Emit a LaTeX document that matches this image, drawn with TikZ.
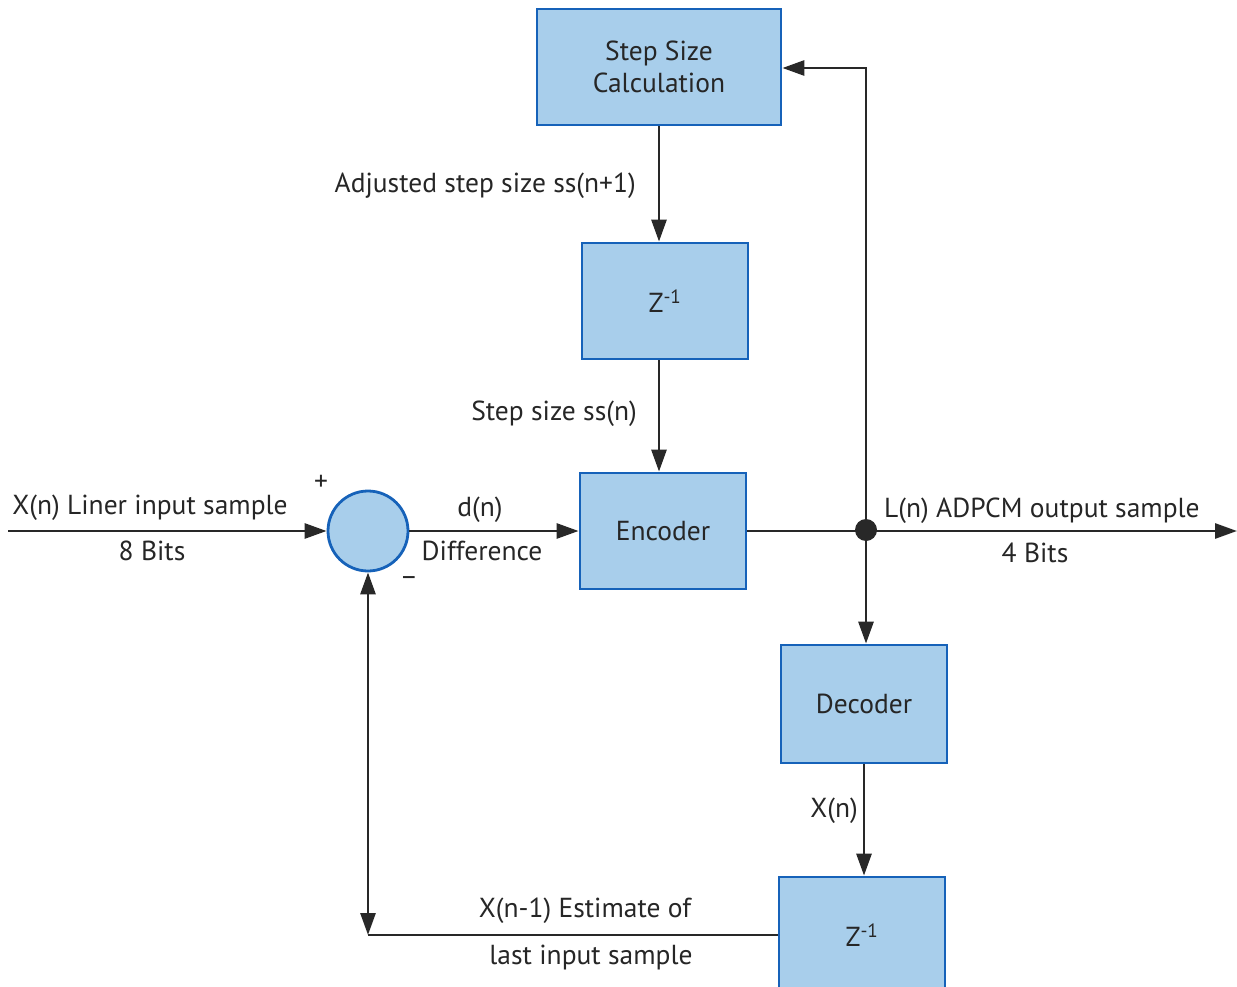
\documentclass[tikz,border=0pt]{standalone}
\usepackage{fontspec}
\setmainfont{PT Sans}
\usetikzlibrary{arrows.meta}
\definecolor{boxfill}{RGB}{168,206,235}
\definecolor{boxline}{RGB}{22,98,185}
\definecolor{wire}{RGB}{40,40,40}
\begin{document}
\begin{tikzpicture}[x=1pt,y=-1pt,
  blk/.style={draw=boxline,fill=boxfill,line width=2.8pt,minimum width=166pt,minimum height=116pt,inner sep=0pt,font=\fontsize{27.5}{32}\selectfont,align=center,text=black!85},
  wl/.style={draw=wire,line width=2.8pt},
  arr/.style={wl,-{Triangle[length=22pt,width=15pt]}},
  lbl/.style={font=\fontsize{27.5}{32}\selectfont,text=black!85,inner sep=0pt}]
\useasboundingbox (0,0) rectangle (1237,987);
% blocks
\node[blk,minimum width=244pt] (calc) at (659,67) {Step Size\\Calculation};
\node[blk] (z1) at (665,301) {Z\textsuperscript{-1}};
\node[blk] (enc) at (663,531) {Encoder};
\node[blk,minimum height=118pt] (dec) at (864,704) {Decoder};
\node[blk] (z2) at (862,935) {Z\textsuperscript{-1}};
\node[draw=boxline,fill=boxfill,line width=2.8pt,circle,minimum size=80pt,inner sep=0pt] (sum) at (368,531) {};
\fill[wire] (866,530) circle (11pt);
\coordinate (J) at (866,531);
\coordinate (in) at (8,531);
\coordinate (out) at (1237,531);
\coordinate (up) at (866,68);
\coordinate (corner) at (368,935);
% wires
\draw[arr] (in) -- (sum.west);
\draw[arr] (sum.east) -- (enc.west);
\draw[wl] (enc.east) -- (J);
\draw[arr] (J) -- (out);
\draw[arr] (J) -- (up) -- (calc.east|-up);
\draw[arr] (J) -- (J|-dec.north);
\draw[arr] (dec.south) -- (dec.south|-z2.north);
\draw[arr] (calc.south) -- (calc.south|-z1.north);
\draw[arr] (calc.south|-z1.south) -- (calc.south|-enc.north);
\draw[wl] (z2.west) -- (corner);
\draw[wl,{Triangle[length=22pt,width=15pt]}-{Triangle[length=22pt,width=15pt]}] (corner) -- (sum.south);
% labels
\node[lbl] (plus) at (321,483) {+};
\node[lbl] (minus) at (409,581) {–};
\node[lbl] (xin) at (150,508) {X(n) Liner input sample};
\node[lbl] (b8) at (152,551) {8 Bits};
\node[lbl] (dn) at (480,510) {d(n)};
\node[lbl] (diff) at (482,551) {Difference};
\node[lbl,anchor=east] (adj) at (636,186) {Adjusted step size ss(n+1)};
\node[lbl,anchor=east] (ssn) at (637,414) {Step size ss(n)};
\node[lbl,anchor=west] (ln) at (884,511) {L(n) ADPCM output sample};
\node[lbl] (b4) at (1035,553) {4 Bits};
\node[lbl,anchor=east] (xn) at (858,811) {X(n)};
\node[lbl] (est1) at (585,911) {X(n-1) Estimate of};
\node[lbl] (est2) at (591,958) {last input sample};
\end{tikzpicture}
\end{document}
